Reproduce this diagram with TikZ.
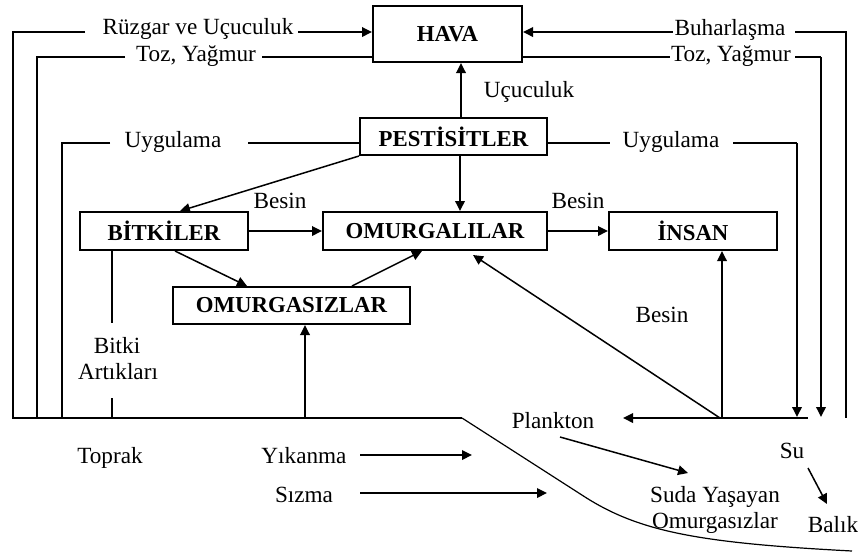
\documentclass[tikz,border=0pt]{standalone}
\usepackage{fontspec}
\setmainfont{Liberation Serif}
\usetikzlibrary{arrows.meta}
\begin{document}
\begin{tikzpicture}[x=0.5pt,y=-0.5pt,
 box/.style={draw, line width=1pt, font=\bfseries\fontsize{11.4}{13}\selectfont, inner sep=0pt},
 lbl/.style={font=\fontsize{11.6}{13}\selectfont, inner sep=0pt, anchor=base},
 ln/.style={line width=0.75pt},
 arr/.style={ln, -{Triangle[length=5pt,width=4.8pt]}}]
\useasboundingbox (0,0) rectangle (858,553);
% boxes
\node[box, minimum width=74.5pt, minimum height=28pt] (hava) at (447.5,34) {HAVA};
\node[box, minimum width=93.5pt, minimum height=18.5pt] (pest) at (453.5,136.5) {PESTİSİTLER};
\node[box, minimum width=84pt, minimum height=19pt] (bit) at (164,231) {BİTKİLER};
\node[box, minimum width=112pt, minimum height=19pt] (omg) at (435,231) {OMURGALILAR};
\node[box, minimum width=84pt, minimum height=19pt] (ins) at (693,231) {İNSAN};
\node[box, minimum width=118.5pt, minimum height=18.5pt] (omz) at (291.5,305.5) {OMURGASIZLAR};
% labels
\node[lbl] (ruz) at (198,34) {Rüzgar ve Uçuculuk};
\node[lbl] (tozl) at (196,61) {Toz, Yağmur};
\node[lbl] (buh) at (730,35) {Buharlaşma};
\node[lbl] (tozr) at (731,61) {Toz, Yağmur};
\node[lbl] (ucu) at (529,97) {Uçuculuk};
\node[lbl] (uygl) at (173,147) {Uygulama};
\node[lbl] (uygr) at (671,147) {Uygulama};
\node[lbl] (bes1) at (280,208) {Besin};
\node[lbl] (bes2) at (578,208) {Besin};
\node[lbl] (bes3) at (662,322) {Besin};
\node[lbl] (bitki) at (117,353) {Bitki};
\node[lbl] (artik) at (118,379) {Artıkları};
\node[lbl] (toprak) at (110,463) {Toprak};
\node[lbl] (yik) at (304,463) {Yıkanma};
\node[lbl] (siz) at (304,502) {Sızma};
\node[lbl] (plank) at (553,428) {Plankton};
\node[lbl] (su) at (792,458) {Su};
\node[lbl] (balik) at (833,532) {Balık};
\node[lbl] (suda1) at (715,502) {Suda Yaşayan};
\node[lbl] (suda2) at (715,528) {Omurgasızlar};
% left side lines
\draw[ln] (85,32) -- (13,32) -- (13,418) -- (462,418);
\draw[arr] (298,32) -- (hava.west |- 0,32);
\draw[ln] (125,57) -- (37,57) -- (37,418);
\draw[ln] (262,57) -- (hava.west |- 0,57);
\draw[ln] (110,143) -- (62,143) -- (62,418);
\draw[ln] (248,143) -- (pest.west |- 0,143);
% right side lines
\draw[arr] (673,32) -- (hava.east |- 0,32);
\draw[ln] (795,32) -- (846,32) -- (846,418);
\draw[ln] (hava.east |- 0,57) -- (670,57);
\draw[ln] (795,57) -- (821,57);
\draw[arr] (821,57) -- (821,417);
\draw[ln] (pest.east |- 0,143) -- (610,143);
\draw[ln] (733,143) -- (797,143);
\draw[arr] (797,143) -- (797,417);
% inner arrows
\draw[arr] (pest.north -| 461,0) -- (hava.south -| 461,0);
\draw[arr] (pest.south west) -- (bit.north -| 180,0);
\draw[arr] (pest.south -| 460,0) -- (omg.north -| 460,0);
\draw[arr] (bit.east) -- (omg.west);
\draw[arr] (omg.east) -- (ins.west);
\draw[arr] (bit.south -| 175,0) -- (omz.north -| 247,0);
\draw[arr] (omz.north -| 352,0) -- (omg.south -| 422,0);
\draw[ln] (bit.south -| 112,0) -- (112,323);
\draw[ln] (112,398) -- (112,418);
\draw[arr] (305,418) -- (omz.south -| 305,0);
% water side
\coordinate (hub) at (720,418);
\draw[arr] (hub) -- (623,418);
\draw[ln] (hub) -- (808,418);
\draw[arr] (hub) -- (473,255);
\draw[arr] (722,418) -- (ins.south -| 722,0);
\draw[arr] (360,455) -- (472,455);
\draw[arr] (360,493) -- (547,493);
\draw[arr] (560,437) -- (688,473);
\draw[arr] (808,468) -- (827,504);
% shore curve
\draw[line width=0.6pt] (462,418) -- (585,497) .. controls (640,532) and (700,543) .. (852,551);
\end{tikzpicture}
\end{document}
